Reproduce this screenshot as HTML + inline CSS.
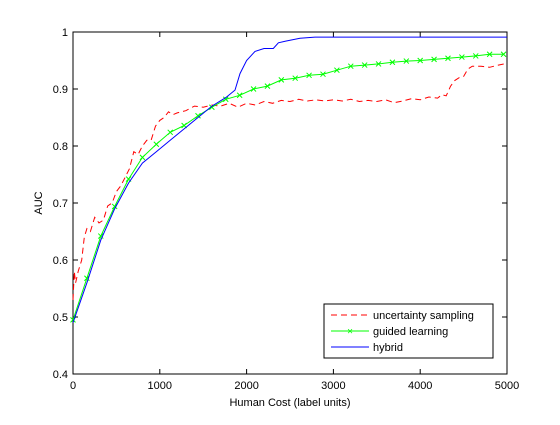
<!DOCTYPE html>
<html><head><meta charset="utf-8"><style>
body{margin:0;background:#fff;}
svg text{font-family:"Liberation Sans",sans-serif;font-size:11px;fill:#000;}
</style></head><body>
<svg id="chart" width="560" height="420" xmlns="http://www.w3.org/2000/svg">
<rect width="560" height="420" fill="#fff"/>
<rect x="73" y="32" width="434" height="342" fill="#fff" stroke="#000" stroke-width="1"/>
<g id="ticks"></g>
<g id="series"></g>
<text x="290" y="406" text-anchor="middle">Human Cost (label units)</text>
<text transform="translate(42,203) rotate(-90)" text-anchor="middle">AUC</text>
<g>
<rect x="324" y="304" width="169" height="54" fill="#fff" stroke="#000"/>
<line x1="331" y1="315" x2="369" y2="315" stroke="#f00" stroke-dasharray="6,4"/>
<text x="373" y="319">uncertainty sampling</text>
<line x1="331" y1="331" x2="369" y2="331" stroke="#0f0"/>
<text x="350" y="334.5" text-anchor="middle" style="fill:#0f0;font-size:10px">×</text>
<text x="373" y="335">guided learning</text>
<line x1="331" y1="347" x2="369" y2="347" stroke="#00f"/>
<text x="373" y="351">hybrid</text>
</g>
</svg>
<script>
const xTicks=[0,1000,2000,3000,4000,5000];
const yTicks=[0.4,0.5,0.6,0.7,0.8,0.9,1];
const yTickLabels=["0.4","0.5","0.6","0.7","0.8","0.9","1"];
const greenX=[0,160,320,480,640,800,960,1120,1280,1440,1600,1760,1920,2080,2240,2400,2560,2720,2880,3040,3200,3360,3520,3680,3840,4000,4160,4320,4480,4640,4800,4960];
const greenY=[0.495,0.568,0.642,0.694,0.742,0.780,0.803,0.824,0.836,0.853,0.868,0.882,0.889,0.900,0.905,0.916,0.919,0.924,0.926,0.933,0.940,0.942,0.944,0.947,0.949,0.950,0.952,0.954,0.956,0.958,0.961,0.961];
const blueX=[0,160,320,480,640,800,960,1120,1280,1440,1600,1760,1866,1924,2000,2097,2200,2308,2366,2450,2615,2788,3000,4000,5000];
const blueY=[0.49,0.56,0.635,0.69,0.735,0.770,0.79,0.81,0.83,0.85,0.87,0.885,0.898,0.927,0.950,0.966,0.971,0.971,0.981,0.984,0.989,0.991,0.991,0.991,0.991];
const redX=[0,15,30,60,100,130,160,200,250,300,350,400,450,500,550,600,650,700,750,800,850,900,950,1000,1050,1100,1150,1200,1300,1400,1500,1600,1700,1800,1900,2000,2100,2200,2300,2400,2500,2600,2700,2800,2900,3000,3100,3200,3300,3400,3500,3600,3700,3800,3900,4000,4100,4200,4250,4300,4350,4400,4450,4500,4550,4600,4700,4800,4900,5000];
const redY=[0.53,0.58,0.56,0.58,0.60,0.64,0.655,0.65,0.675,0.665,0.67,0.695,0.70,0.72,0.73,0.745,0.76,0.79,0.785,0.80,0.81,0.81,0.835,0.845,0.85,0.86,0.855,0.858,0.862,0.87,0.868,0.872,0.87,0.875,0.868,0.875,0.872,0.878,0.875,0.88,0.878,0.882,0.879,0.881,0.879,0.881,0.879,0.882,0.878,0.880,0.878,0.881,0.876,0.879,0.883,0.881,0.886,0.884,0.89,0.888,0.905,0.915,0.92,0.922,0.935,0.94,0.94,0.938,0.942,0.945];
const X0=73,X1=507,Y0=374,Y1=32;
const sx=v=>X0+(v-0)/5000*(X1-X0);
const sy=v=>Y0-(v-0.4)/0.6*(Y0-Y1);
const NS="http://www.w3.org/2000/svg";
function mk(t,a,p){const e=document.createElementNS(NS,t);for(const k in a)e.setAttribute(k,a[k]);p.appendChild(e);return e;}
const tg=document.getElementById('ticks'),sg=document.getElementById('series');
xTicks.forEach(v=>{const x=sx(v);
mk('line',{x1:x,y1:Y0,x2:x,y2:Y0-5,stroke:'#000'},tg);
mk('line',{x1:x,y1:Y1,x2:x,y2:Y1+5,stroke:'#000'},tg);
const t=mk('text',{x:x,y:Y0+15,'text-anchor':'middle'},tg);


t.textContent=String(v);});
yTicks.forEach((v,i)=>{const y=sy(v);
mk('line',{x1:X0,y1:y,x2:X0+5,y2:y,stroke:'#000'},tg);
mk('line',{x1:X1,y1:y,x2:X1-5,y2:y,stroke:'#000'},tg);
const t=mk('text',{x:X0-5,y:y+4,'text-anchor':'end'},tg);


t.textContent=yTickLabels[i];});
function pts(xs,ys){return xs.map((x,i)=>sx(x).toFixed(1)+','+sy(ys[i]).toFixed(1)).join(' ');}
const rl=mk('polyline',{points:pts(redX,redY),fill:'none',stroke:'#f00','stroke-dasharray':'6,4'},sg);


const gl=mk('polyline',{points:pts(greenX,greenY),fill:'none',stroke:'#0f0'},sg);


greenX.forEach((x,i)=>{const cx=sx(x),cy=sy(greenY[i]);
const m=mk('path',{d:`M${cx-2.5},${cy-2.5}L${cx+2.5},${cy+2.5}M${cx-2.5},${cy+2.5}L${cx+2.5},${cy-2.5}`,stroke:'#0f0',fill:'none'},sg);

});
const bl=mk('polyline',{points:pts(blueX,blueY),fill:'none',stroke:'#00f'},sg);


</script>
</body></html>
